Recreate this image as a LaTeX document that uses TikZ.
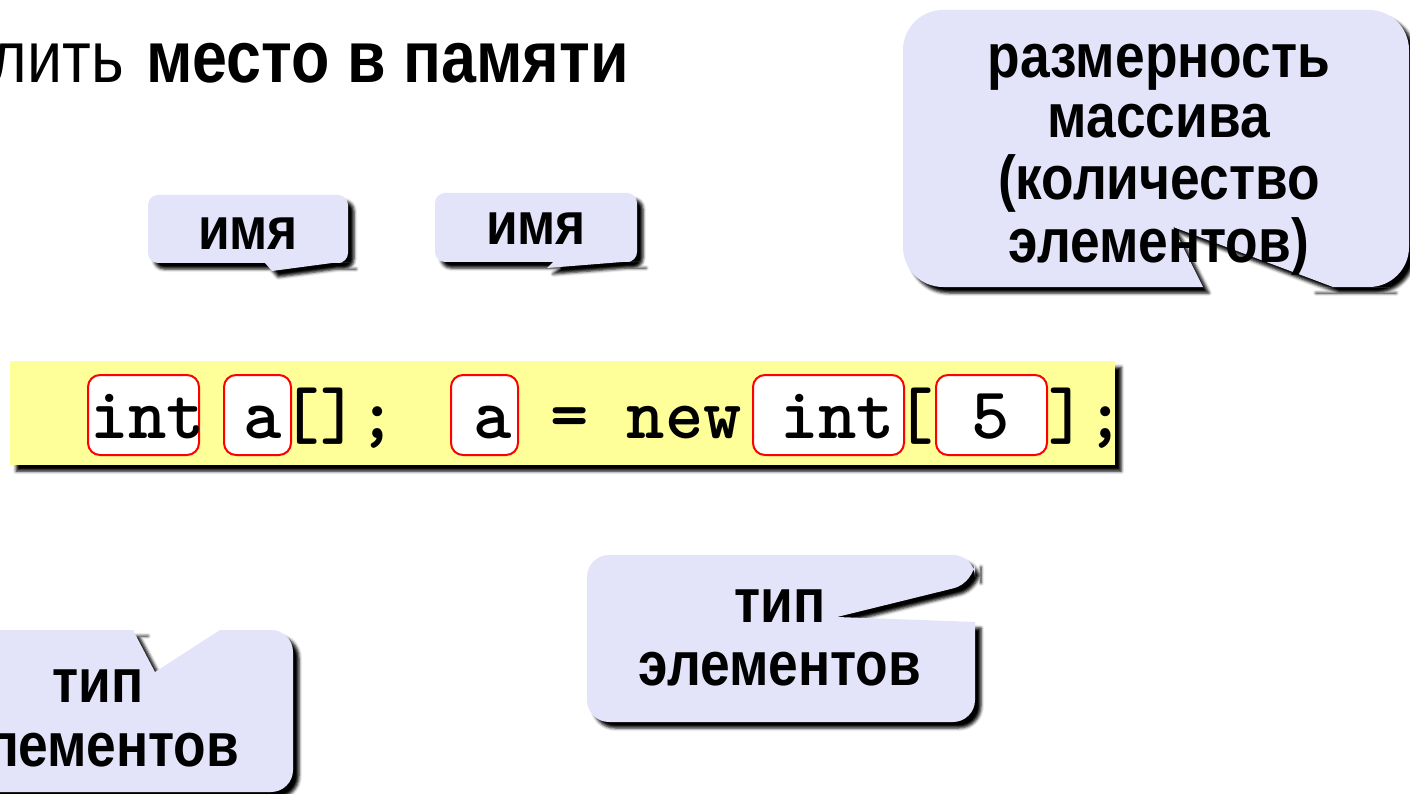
\documentclass[tikz,border=0pt]{standalone}
\usepackage{fontspec}
\setmainfont{Liberation Sans}[FakeStretch=0.86]
\usetikzlibrary{shadows.blur}
\definecolor{bubblefill}{RGB}{227,227,250}
\definecolor{codebg}{RGB}{255,255,153}
\tikzset{
  bubble/.style={fill=bubblefill, blur shadow={shadow xshift=6pt, shadow yshift=-6pt, shadow blur radius=3pt, shadow opacity=100}},
  codebox/.style={fill=codebg, inner sep=0, anchor=north west, blur shadow={shadow xshift=6pt, shadow yshift=-6pt, shadow blur radius=3pt, shadow opacity=100}},
  redbox/.style={draw=red, fill=white, line width=2pt, rounded corners=12pt, inner sep=0, anchor=north west, minimum height=80pt},
  lbl/.style={font=\bfseries\fontsize{62}{62}\selectfont, inner sep=0, anchor=base},
  smalllbl/.style={font=\bfseries\fontsize{60}{60}\selectfont, inner sep=0, anchor=base},
  titletext/.style={font=\fontsize{73}{73}\selectfont, inner sep=0},
  codetext/.style={font=\ttfamily\bfseries\fontsize{73}{73}\selectfont, inner sep=0, anchor=base west}
}
\begin{document}
\begin{tikzpicture}[x=1pt,y=-1pt]
\useasboundingbox (0,0) rectangle (1410,794);
\clip (0,0) rectangle (1410,794);

% title line (cut at left)
\node[titletext, anchor=base west] (tb) at (146,83) {\bfseries место в памяти};
\node[titletext, anchor=base east] (ta) at (124,83) {лить};

% callout "имя" 1
\path[bubble, rounded corners=10pt] (248,195) -- (348,195) -- (348,263) -- (340,263) [sharp corners] -- (332,263) -- (272,271) -- (265,263) -- (258,263) [rounded corners=10pt] -- (148,263) -- (148,195) -- cycle;
\node[smalllbl] (n1) at (248,250) {имя};

% callout "имя" 2
\path[bubble, rounded corners=10pt] (536,193) -- (637,193) -- (637,262) -- (630,262) [sharp corners] -- (622,262) -- (547,268) -- (553,262) -- (545,262) [rounded corners=10pt] -- (435,262) -- (435,193) -- cycle;
\node[smalllbl] (n2) at (536,245) {имя};

% big callout
\path[bubble, rounded corners=40pt] (1150,10) -- (1409,10) -- (1409,287) -- (1350,287) [sharp corners] -- (1333,287) -- (1173,227) -- (1203,287) -- (1190,287) [rounded corners=40pt] -- (903,287) -- (903,10) -- cycle;
\node[lbl] (r1) at (1159,78) {размерность};
\node[lbl] (r2) at (1159,138) {массива};
\node[lbl] (r3) at (1159,200) {(количество};
\node[lbl] (r4) at (1159,263) {элементов)};

% code line
\node[codebox, minimum width=1105pt, minimum height=104pt] (code) at (10,361) {};
\node[redbox, minimum width=111pt] (b1) at (87,374) {};
\node[redbox, minimum width=67pt] (b2) at (223,374) {};
\node[redbox, minimum width=67pt] (b3) at (450,374) {};
\node[redbox, minimum width=151pt] (b4) at (752,374) {};
\node[redbox, minimum width=111pt] (b5) at (935,374) {};
\node[codetext] (ct) at (90,438) {int~a[];~~a~=~new~int[~5~];};

% bottom-left callout
\path[bubble, rounded corners=22pt] (-200,630) -- (120,630) [sharp corners] -- (133,630) -- (155,672) -- (220,630) -- (232,630) [rounded corners=22pt] -- (293,630) -- (293,792) -- (-200,792) -- cycle;
\node[lbl] (l1) at (98,702) {тип};
\node[lbl] (l2) at (98,766) {элементов};

% bottom-middle callout
\path[bubble, rounded corners=22pt] (780,555) -- (975,555) -- (975,583) [sharp corners] -- (837,617) -- (975,622) -- (975,632) [rounded corners=22pt] -- (975,722) -- (587,722) -- (587,555) -- cycle;
\node[lbl] (m1) at (780,622) {тип};
\node[lbl] (m2) at (780,685) {элементов};
\end{tikzpicture}
\end{document}
